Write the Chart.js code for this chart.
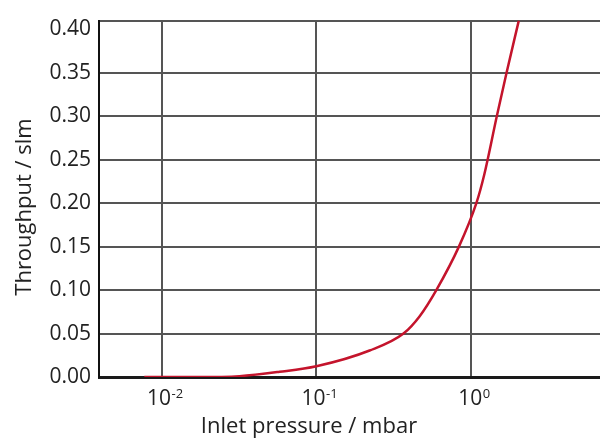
<!DOCTYPE html>
<html>
<head>
<meta charset="utf-8">
<script src="https://cdn.jsdelivr.net/npm/chart.js@4/dist/chart.umd.min.js"></script>
<style>
  html, body { margin: 0; padding: 0; background: #ffffff; }
  canvas { display: block; }
</style>
</head>
<body>
<canvas id="chart" width="600" height="438"></canvas>
<script>
// Inlet pressure (mbar) and the matching throughput (slm)
const inletPressure = [0.0077, 0.01, 0.0168, 0.0318, 0.0578, 0.1, 0.221, 0.366, 0.466, 0.597, 0.836, 1.084, 1.22, 1.47, 1.70, 2.04];
const throughput    = [0, 0, 0, 0.001, 0.006, 0.0124, 0.0305, 0.05, 0.070, 0.10, 0.15, 0.20, 0.233, 0.30, 0.35, 0.41];

// Decade ticks on the pressure axis: [value, exponent label]
const xTickValues = [0.01, 0.1, 1];
const xTickExponents = ['-2', '-1', '0'];

const xTitle = 'Inlet pressure / mbar';
const yTitle = 'Throughput / slm';

const FONT = "'Open Sans', 'Noto Sans', sans-serif";
const TEXT = '#222222';
const GRID = '#555555';

const points = inletPressure.map((p, i) => ({ x: p, y: throughput[i] }));

// Decade labels written as 10 with a raised exponent, plus both axis titles
const labelPlugin = {
  id: 'axisText',
  afterDraw(chart) {
    const ctx = chart.ctx;
    const xs = chart.scales.x;
    ctx.save();
    ctx.fillStyle = TEXT;
    ctx.textBaseline = 'alphabetic';
    xTickValues.forEach((v, i) => {
      const px = xs.getPixelForValue(v);
      ctx.font = '21px ' + FONT;
      const baseW = ctx.measureText('10').width;
      ctx.font = '13px ' + FONT;
      const supW = ctx.measureText(xTickExponents[i]).width;
      const start = px + 3 - (baseW + supW) / 2;
      ctx.font = '21px ' + FONT;
      ctx.textAlign = 'left';
      ctx.fillText('10', start, 405);
      ctx.font = '13px ' + FONT;
      ctx.fillText(xTickExponents[i], start + baseW + 0.5, 398);
    });

    ctx.font = '22px ' + FONT;
    ctx.textAlign = 'center';
    ctx.textBaseline = 'middle';
    ctx.fillText(xTitle, 309, 427);

    ctx.translate(25, 207);
    ctx.rotate(-Math.PI / 2);
    ctx.fillText(yTitle, 0, 0);
    ctx.restore();
  }
};

new Chart(document.getElementById('chart'), {
  type: 'line',
  data: {
    datasets: [{
      data: points,
      borderColor: '#c4142c',
      borderWidth: 2.5,
      pointRadius: 0,
      fill: false,
      cubicInterpolationMode: 'monotone'
    }]
  },
  options: {
    responsive: false,
    animation: false,
    devicePixelRatio: 1,
    layout: { padding: { top: 13.5, right: 0, bottom: 0, left: 0 } },
    plugins: {
      legend: { display: false },
      tooltip: { enabled: false }
    },
    scales: {
      x: {
        type: 'logarithmic',
        min: 0.00392,
        max: 6.84,
        afterBuildTicks(scale) {
          scale.ticks = xTickValues.map(v => ({ value: v }));
        },
        afterFit(scale) { scale.height = 61; },
        ticks: { display: false },
        grid: { color: GRID, lineWidth: 2, drawTicks: false },
        border: { color: '#1a1a1a', width: 3 }
      },
      y: {
        type: 'linear',
        min: 0,
        max: 0.41,
        afterBuildTicks(scale) {
          scale.ticks.push({ value: 0.41 });
        },
        afterFit(scale) { scale.width = 99; },
        ticks: {
          stepSize: 0.05,
          includeBounds: false,
          autoSkip: false,
          padding: 8,
          color: TEXT,
          font: { family: FONT, size: 21 },
          callback(value) {
            return Math.abs(value - 0.41) < 1e-6 ? '' : value.toFixed(2);
          }
        },
        grid: {
          drawTicks: false,
          lineWidth: 2,
          color(ctx) {
            return ctx.tick && Math.abs(ctx.tick.value - 0.40) < 1e-6 ? 'rgba(0,0,0,0)' : GRID;
          }
        },
        border: { color: '#111111', width: 2 }
      }
    }
  },
  plugins: [labelPlugin]
});
</script>
</body>
</html>
